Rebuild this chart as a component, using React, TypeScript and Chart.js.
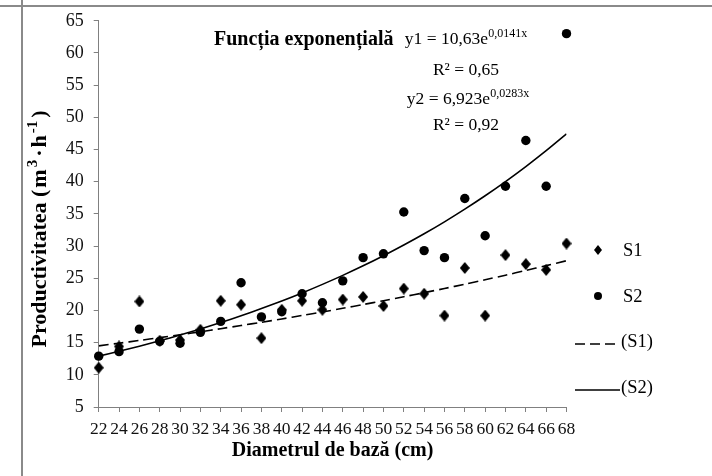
import React, { useEffect, useRef } from "react";
import { Chart, registerables } from "chart.js";

Chart.register(...registerables);

// ---- data ----
const diameters = [22, 24, 26, 28, 30, 32, 34, 36, 38, 40, 42, 44, 46, 48, 50, 52, 54, 56, 58, 60, 62, 64, 66, 68];
const s1Values = [11.1, 14.4, 21.4, 15.3, 15.4, 17.0, 21.5, 20.9, 15.7, 20.1, 21.5, 20.1, 21.7, 22.1, 20.7, 23.4, 22.6, 19.2, 26.6, 19.2, 28.6, 27.2, 26.3, 30.4];
const s2Values = [12.9, 13.6, 17.1, 15.2, 14.9, 16.6, 18.3, 24.3, 19.0, 19.8, 22.6, 21.2, 24.6, 28.2, 28.8, 35.3, 29.3, 28.2, 37.4, 31.6, 39.3, 46.4, 39.3, 63.0];
// trend lines (y1 = 10,63e^0,0141x ; y2 = 6,923e^0,0283x)
const trendS1 = [14.5, 14.91, 15.34, 15.78, 16.23, 16.69, 17.17, 17.66, 18.16, 18.68, 19.22, 19.77, 20.33, 20.92, 21.51, 22.13, 22.76, 23.41, 24.08, 24.77, 25.48, 26.21, 26.96, 27.73];
const trendS2 = [12.9, 13.65, 14.45, 15.29, 16.18, 17.12, 18.12, 19.18, 20.29, 21.47, 22.72, 24.05, 25.45, 26.93, 28.5, 30.16, 31.91, 33.77, 35.74, 37.82, 40.02, 42.35, 44.82, 47.43];
const yMin = 5;
const yMax = 65;
const yStep = 5;
const xStep = 2;

const seriesLabels = ["S1", "S2", "(S1)", "(S2)"];
const xTitle = "Diametrul de bază (cm)";
const annotTitle = "Funcția exponențială";

const SERIF = '"Liberation Serif", "Times New Roman", serif';

type Seg = { t: string; sup?: boolean; gap?: number };

function drawRich(
  ctx: CanvasRenderingContext2D,
  segs: Seg[],
  x: number,
  y: number,
  align: "left" | "center",
  font: string,
  supFont: string,
  rise: number
) {
  let total = 0;
  const widths = segs.map((s) => {
    ctx.font = s.sup ? supFont : font;
    const w = ctx.measureText(s.t).width + (s.gap || 0);
    total += w;
    return w;
  });
  let cx = align === "center" ? x - total / 2 : x;
  ctx.textAlign = "left";
  ctx.textBaseline = "alphabetic";
  segs.forEach((s, i) => {
    ctx.font = s.sup ? supFont : font;
    ctx.fillText(s.t, cx, s.sup ? y - rise : y);
    cx += widths[i];
  });
}

function makeDiamond(w: number, h: number) {
  const c = document.createElement("canvas");
  c.width = w;
  c.height = h;
  const g = c.getContext("2d")!;
  g.fillStyle = "#000";
  g.beginPath();
  g.moveTo(w / 2, 0);
  g.lineTo(w, h / 2);
  g.lineTo(w / 2, h);
  g.lineTo(0, h / 2);
  g.closePath();
  g.fill();
  return c;
}

export default function App() {
  const ref = useRef<HTMLCanvasElement | null>(null);

  useEffect(() => {
    const canvas = ref.current;
    if (!canvas) return;
    const diamond = makeDiamond(10, 12);
    const pts = (vals: number[]) => diameters.map((d, i) => ({ x: d, y: vals[i] }));

    const decor = {
      id: "decor",
      afterDraw(chart: any) {
        const ctx: CanvasRenderingContext2D = chart.ctx;
        ctx.save();
        // frame lines
        ctx.strokeStyle = "#8a8a8a";
        ctx.lineWidth = 2;
        ctx.beginPath();
        ctx.moveTo(0, 6);
        ctx.lineTo(712, 6);
        ctx.moveTo(22, 0);
        ctx.lineTo(22, 476);
        ctx.stroke();

        ctx.fillStyle = "#000";
        // y title
        ctx.save();
        ctx.translate(46, 229);
        ctx.rotate(-Math.PI / 2);
        drawRich(
          ctx,
          [
            { t: "Productivitatea " },
            { t: "(", gap: 2 },
            { t: "m", gap: 2 },
            { t: "3", sup: true, gap: 3 },
            { t: "·", gap: 2 },
            { t: "h", gap: 2 },
            { t: "-1", sup: true, gap: 3 },
            { t: ")" },
          ],
          0,
          0,
          "center",
          `bold 22px ${SERIF}`,
          `bold 15px ${SERIF}`,
          9
        );
        ctx.restore();

        // x title
        const ca = chart.chartArea;
        ctx.font = `bold 20px ${SERIF}`;
        ctx.textAlign = "center";
        ctx.textBaseline = "alphabetic";
        ctx.fillText(xTitle, (ca.left + ca.right) / 2, 456);

        // annotation
        ctx.font = `bold 20px ${SERIF}`;
        ctx.textAlign = "left";
        ctx.fillText(annotTitle, 214, 45);

        const f = `17.5px ${SERIF}`;
        const sf = `12px ${SERIF}`;
        drawRich(ctx, [{ t: "y1 = 10,63e" }, { t: "0,0141x", sup: true }], 466, 44, "center", f, sf, 7);
        drawRich(ctx, [{ t: "R² = 0,65" }], 466, 75, "center", f, sf, 7);
        drawRich(ctx, [{ t: "y2 = 6,923e" }, { t: "0,0283x", sup: true }], 468, 104, "center", f, sf, 7);
        drawRich(ctx, [{ t: "R² = 0,92" }], 466, 130, "center", f, sf, 7);

        // legend
        const lx = 598;
        const tx = 623;
        const rows = [250, 296, 342, 388];
        ctx.font = `18.5px ${SERIF}`;
        ctx.textAlign = "left";
        ctx.textBaseline = "middle";
        // S1 diamond
        ctx.beginPath();
        ctx.moveTo(lx, rows[0] - 5);
        ctx.lineTo(lx + 4, rows[0]);
        ctx.lineTo(lx, rows[0] + 5);
        ctx.lineTo(lx - 4, rows[0]);
        ctx.closePath();
        ctx.fill();
        ctx.fillText(seriesLabels[0], tx, rows[0] + 1);
        // S2 circle
        ctx.beginPath();
        ctx.arc(lx, rows[1], 4, 0, Math.PI * 2);
        ctx.fill();
        ctx.fillText(seriesLabels[1], tx, rows[1] + 1);
        // (S1) dashed
        ctx.strokeStyle = "#000";
        ctx.lineWidth = 1.6;
        ctx.setLineDash([10, 5]);
        ctx.beginPath();
        ctx.moveTo(575, rows[2] + 2);
        ctx.lineTo(616, rows[2] + 2);
        ctx.stroke();
        ctx.setLineDash([]);
        ctx.fillText(seriesLabels[2], 621, rows[2]);
        // (S2) solid
        ctx.beginPath();
        ctx.moveTo(575, rows[3] + 2);
        ctx.lineTo(620, rows[3] + 2);
        ctx.stroke();
        ctx.fillText(seriesLabels[3], 621, rows[3]);
        ctx.restore();
      },
    };

    const chart = new Chart(canvas, {
      type: "scatter",
      data: {
        datasets: [
          {
            label: seriesLabels[0],
            data: pts(s1Values),
            pointStyle: diamond as any,
            pointRadius: 5,
            showLine: false,
            clip: false as any,
          },
          {
            label: seriesLabels[1],
            data: pts(s2Values),
            pointStyle: "circle",
            pointRadius: 4.7,
            backgroundColor: "#000",
            borderColor: "#000",
            borderWidth: 0,
            showLine: false,
            clip: false as any,
          },
          {
            label: seriesLabels[2],
            data: pts(trendS1),
            showLine: true,
            borderColor: "#000",
            borderWidth: 1.6,
            borderDash: [10, 5],
            pointRadius: 0,
            tension: 0.3,
          },
          {
            label: seriesLabels[3],
            data: pts(trendS2),
            showLine: true,
            borderColor: "#000",
            borderWidth: 1.6,
            pointRadius: 0,
            tension: 0.3,
          },
        ],
      },
      options: {
        animation: false,
        responsive: false,
        devicePixelRatio: 1,
        events: [],
        layout: { padding: { left: 55.7, top: 19.3, right: 145.5, bottom: 29 } },
        plugins: { legend: { display: false }, tooltip: { enabled: false } },
        scales: {
          x: {
            type: "linear",
            min: diameters[0],
            max: diameters[diameters.length - 1],
            ticks: {
              stepSize: xStep,
              autoSkip: false,
              maxRotation: 0,
              minRotation: 0,
              font: { family: SERIF, size: 17.5 },
              color: "#111",
              padding: 7,
            },
            grid: { display: true, drawOnChartArea: false, drawTicks: true, tickLength: 5, color: "#808080" },
            border: { color: "#808080", width: 1 },
          },
          y: {
            min: yMin,
            max: yMax,
            ticks: { stepSize: yStep, font: { family: SERIF, size: 18 }, color: "#111", padding: 10 },
            grid: { display: true, drawOnChartArea: false, drawTicks: true, tickLength: 5, color: "#808080" },
            border: { color: "#808080", width: 1 },
          },
        },
      },
      plugins: [decor],
    });
    return () => chart.destroy();
  }, []);

  return (
    <div style={{ position: "absolute", left: 0, top: 0, width: 712, height: 476, background: "#fff" }}>
      <canvas ref={ref} width={712} height={476} style={{ display: "block", width: 712, height: 476 }} />
    </div>
  );
}
